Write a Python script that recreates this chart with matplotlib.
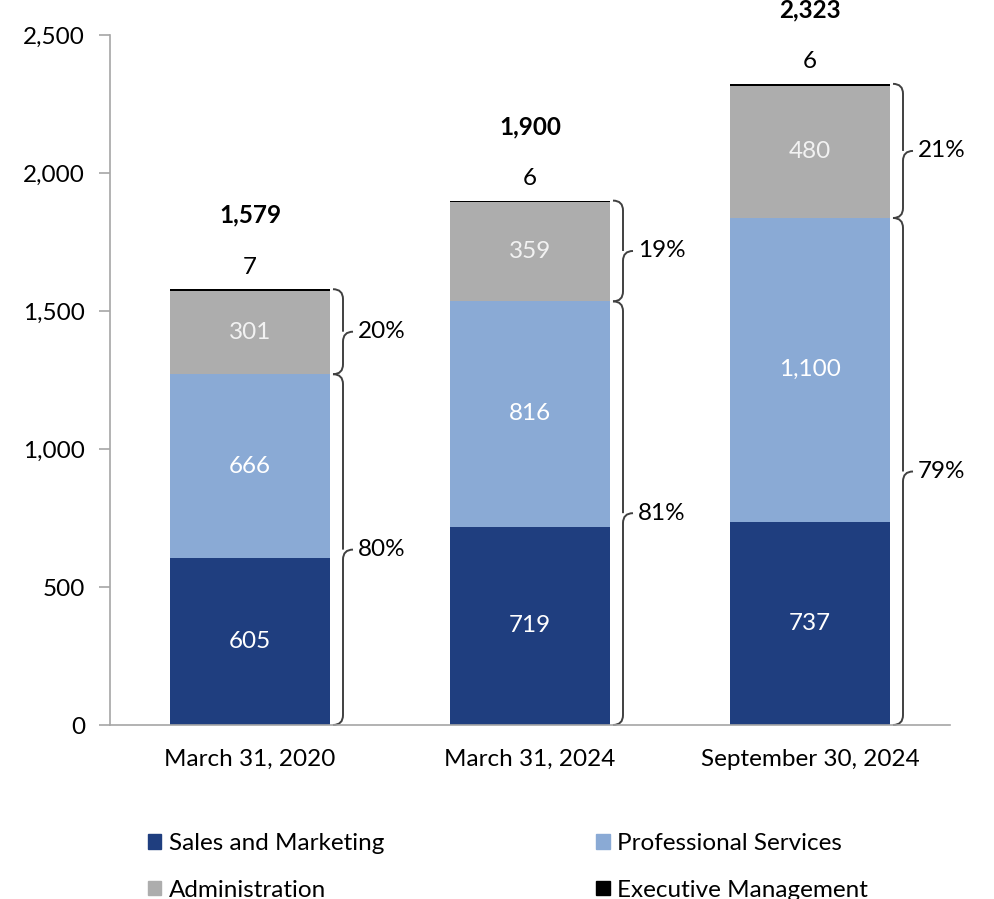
import matplotlib.pyplot as plt
from matplotlib.path import Path
from matplotlib.patches import PathPatch, Patch
import numpy as np

plt.rcParams['font.family'] = ['Lato', 'DejaVu Sans']

# data
categories = ['March 31, 2020', 'March 31, 2024', 'September 30, 2024']
sales = [605, 719, 737]
prof = [666, 816, 1100]
admin = [301, 359, 480]
execm = [7, 6, 6]
totals = [1579, 1900, 2323]
pct_low = ['80%', '81%', '79%']
pct_high = ['20%', '19%', '21%']

c_sales = '#1F3E7F'
c_prof = '#8AAAD5'
c_admin = '#ADADAD'
c_exec = '#000000'
axis_col = '#A6A6A6'

fig = plt.figure(figsize=(9.95, 8.99), dpi=100)
ax = fig.add_axes([110/995, 174/899, 840/995, 690/899])

x = np.arange(len(categories))
w = 160/280
s = np.array(sales); p = np.array(prof); a = np.array(admin); e = np.array(execm)
ax.bar(x, s, w, color=c_sales)
ax.bar(x, p, w, bottom=s, color=c_prof)
ax.bar(x, a, w, bottom=s+p, color=c_admin)
ax.bar(x, e, w, bottom=s+p+a, color=c_exec)

fs = 17.5
for i in range(len(x)):
    ax.text(x[i], s[i]/2, f'{sales[i]:,}', ha='center', va='center', color='white', fontsize=fs)
    ax.text(x[i], s[i]+p[i]/2, f'{prof[i]:,}', ha='center', va='center', color='white', fontsize=fs)
    ax.text(x[i], s[i]+p[i]+a[i]/2, f'{admin[i]:,}', ha='center', va='center', color='#F2F2F2', fontsize=fs)
    top = s[i]+p[i]+a[i]+e[i]
    ax.annotate(str(execm[i]), (x[i], top), xytext=(0, 22), textcoords='offset pixels',
                ha='center', va='center', fontsize=fs, annotation_clip=False)
    ax.annotate(f'{totals[i]:,}', (x[i], top), xytext=(0, 74), textcoords='offset pixels',
                ha='center', va='center', fontsize=fs, fontweight='bold', annotation_clip=False)


def brace(x0, y0, y1, bw=20/280, r=36):
    xm = x0 + bw/2
    ym = (y0 + y1)/2
    verts = [(x0, y0), (xm, y0), (xm, y0+r),
             (xm, ym-r),
             (xm, ym), (x0+bw, ym),
             (xm, ym), (xm, ym+r),
             (xm, y1-r),
             (xm, y1), (x0, y1)]
    codes = [Path.MOVETO, Path.CURVE3, Path.CURVE3,
             Path.LINETO,
             Path.CURVE3, Path.CURVE3,
             Path.MOVETO, Path.CURVE3,
             Path.LINETO,
             Path.CURVE3, Path.CURVE3]
    ax.add_patch(PathPatch(Path(verts, codes), fill=False, ec='#404040', lw=1.4, clip_on=False))
    return x0 + bw, ym


for i in range(len(x)):
    right = x[i] + w/2 + 3/280
    mid_top = s[i] + p[i]
    tx, ty = brace(right, 0, mid_top)
    ax.text(tx + 5/280, ty, pct_low[i], ha='left', va='center', fontsize=fs)
    tx, ty = brace(right, mid_top, totals[i])
    ax.text(tx + 5/280, ty, pct_high[i], ha='left', va='center', fontsize=fs)

ax.set_xlim(-0.5, 2.5)
ax.set_ylim(0, 2500)
ax.set_yticks([0, 500, 1000, 1500, 2000, 2500])
ax.set_yticklabels(['0', '500', '1,000', '1,500', '2,000', '2,500'])
ax.set_xticks(x)
ax.set_xticklabels(categories)
for sp in ['top', 'right']:
    ax.spines[sp].set_visible(False)
for sp in ['left', 'bottom']:
    ax.spines[sp].set_color(axis_col)
    ax.spines[sp].set_linewidth(1.2)
ax.tick_params(axis='y', length=8, width=1.2, color=axis_col, pad=10, labelsize=fs)
ax.tick_params(axis='x', length=0, pad=17, labelsize=fs)

handles = [Patch(color=c_sales), Patch(color=c_prof), Patch(color=c_admin), Patch(color=c_exec)]
labels = ['Sales and Marketing', 'Professional Services', 'Administration', 'Executive Management']
# ncol=2 fills column-wise, so reorder to read row by row
order = [0, 2, 1, 3]
fig.legend([handles[k] for k in order], [labels[k] for k in order],
           loc='upper left', bbox_to_anchor=(148/995, 0, 720/995, 66/899),
           bbox_transform=fig.transFigure, ncol=2, mode='expand', frameon=False,
           fontsize=fs, handlelength=0.55, handleheight=0.55, handletextpad=0.3,
           labelspacing=1.05, borderpad=0, borderaxespad=0)

fig.savefig('out.png', dpi=100)
